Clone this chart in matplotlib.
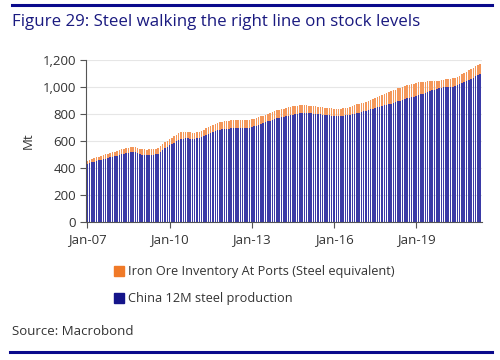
import matplotlib
matplotlib.use("Agg")
import matplotlib.pyplot as plt
from matplotlib.patches import Patch
from matplotlib.lines import Line2D
import numpy as np

plt.rcParams['font.family'] = ['Open Sans', 'DejaVu Sans']

# Monthly, Jan-2007 .. May-2021
steel_production = [
    # 2007
    434, 438, 443, 448, 453, 458, 463, 467, 471, 475, 479, 484,
    # 2008
    488, 492, 497, 501, 505, 509, 513, 516, 518, 516, 510, 504,
    # 2009
    500, 498, 497, 497, 498, 499, 502, 508, 520, 535, 548, 558,
    # 2010
    568, 578, 588, 598, 607, 614, 618, 620, 620, 619, 618, 618,
    # 2011
    620, 624, 630, 636, 644, 652, 660, 668, 676, 682, 686, 688,
    # 2012
    690, 692, 693, 694, 694, 695, 695, 696, 696, 697, 698, 700,
    # 2013
    704, 709, 714, 720, 726, 732, 739, 746, 752, 758, 763, 768,
    # 2014
    772, 776, 780, 784, 788, 792, 796, 800, 803, 806, 808, 809,
    # 2015
    808, 807, 806, 804, 802, 800, 798, 796, 794, 792, 790, 788,
    # 2016
    786, 785, 785, 786, 788, 790, 793, 796, 800, 804, 808, 812,
    # 2017
    816, 820, 825, 830, 835, 840, 845, 850, 855, 860, 865, 870,
    # 2018
    874, 878, 883, 888, 894, 900, 906, 911, 916, 920, 924, 928,
    # 2019
    935, 940, 946, 952, 958, 964, 970, 975, 980, 985, 990, 995,
    # 2020
    998, 1000, 998, 1000, 1004, 1008, 1014, 1022, 1030, 1038, 1045, 1053,
    # 2021
    1062, 1070, 1080, 1090, 1100,
]

port_inventory = [
    # 2007
    22, 23, 24, 25, 26, 27, 28, 29, 30, 31, 32, 33,
    # 2008
    34, 35, 36, 37, 37, 38, 38, 38, 39, 39, 40, 40,
    # 2009
    40, 40, 40, 41, 41, 42, 42, 42, 43, 43, 44, 45,
    # 2010
    46, 47, 48, 49, 50, 50, 49, 48, 47, 46, 45, 45,
    # 2011
    46, 47, 48, 49, 50, 51, 52, 53, 54, 55, 56, 57,
    # 2012
    58, 58, 59, 59, 60, 60, 60, 59, 59, 58, 58, 57,
    # 2013
    57, 56, 56, 56, 57, 57, 58, 58, 59, 59, 60, 60,
    # 2014
    60, 61, 61, 62, 62, 62, 61, 61, 60, 59, 58, 57,
    # 2015
    57, 56, 56, 55, 55, 55, 55, 54, 54, 54, 54, 54,
    # 2016
    54, 53, 53, 53, 54, 55, 56, 58, 60, 62, 64, 66,
    # 2017
    64, 66, 68, 70, 72, 74, 76, 78, 80, 82, 84, 86,
    # 2018
    88, 90, 92, 94, 96, 97, 98, 98, 98, 98, 98, 97,
    # 2019
    97, 95, 92, 88, 83, 78, 72, 67, 63, 60, 58, 58,
    # 2020
    58, 60, 62, 63, 63, 62, 62, 64, 66, 68, 70, 72,
    # 2021
    73, 74, 75, 75, 74,
]

tick_labels = ["Jan-07", "Jan-10", "Jan-13", "Jan-16", "Jan-19"]
tick_months = [0, 36, 72, 108, 144]
y_ticks = [0, 200, 400, 600, 800, 1000, 1200]

navy = '#14148a'
orange = '#f07a28'
bar_blue = '#3a3aa6'
bar_orange = '#f4975a'
title_col = '#1a1a80'
text_col = '#333333'

fig = plt.figure(figsize=(5.0, 3.6), dpi=100)
ax = fig.add_axes([0.172, 0.383, 0.792, 0.450])

x = np.arange(len(steel_production))
ax.bar(x, steel_production, width=0.66, color=bar_blue, linewidth=0, zorder=2)
ax.bar(x, port_inventory, bottom=steel_production, width=0.66, color=bar_orange,
       linewidth=0, zorder=2)

ax.set_xlim(-0.6, len(x) - 0.2)
ax.set_ylim(0, 1200)
ax.set_yticks(y_ticks)
ax.set_yticklabels([f"{v:,}" for v in y_ticks])
ax.set_xticks(tick_months)
ax.set_xticklabels(tick_labels)
ax.grid(axis='y', color='#e6e6e6', linewidth=0.8, zorder=0)
ax.set_axisbelow(True)

for s in ['top', 'right']:
    ax.spines[s].set_visible(False)
ax.spines['left'].set_color('#555555')
ax.spines['bottom'].set_color('#555555')
ax.spines['left'].set_linewidth(0.8)
ax.spines['bottom'].set_linewidth(0.8)
ax.tick_params(axis='both', colors='#555555', labelcolor=text_col, labelsize=9.5,
               length=4, width=0.8)
ax.tick_params(axis='y', pad=3)
ax.tick_params(axis='x', pad=4)
ax.set_ylabel("Mt", color=text_col, fontsize=9.5, labelpad=6)

fig.text(0.024, 0.938, "Figure 29: Steel walking the right line on stock levels",
         color=title_col, fontsize=12.2, va='center', ha='left')

fig.add_artist(Line2D([0.024, 0.984], [0.986, 0.986], color='#0a0a8c', linewidth=2.2))
fig.add_artist(Line2D([0.020, 0.984], [0.022, 0.022], color='#0a0a8c', linewidth=2.2))

handles = [Patch(color=orange), Patch(color=navy)]
labels = ["Iron Ore Inventory At Ports (Steel equivalent)", "China 12M steel production"]
fig.legend(handles, labels, loc='upper left', bbox_to_anchor=(0.228, 0.263),
           frameon=False, fontsize=9.2, handlelength=0.75, handleheight=0.75,
           handletextpad=0.35, labelspacing=1.1, borderaxespad=0, borderpad=0,
           labelcolor=text_col)

fig.text(0.024, 0.078, "Source: Macrobond", color=text_col, fontsize=9.5,
         va='center', ha='left')

fig.savefig("out.png", dpi=100)
